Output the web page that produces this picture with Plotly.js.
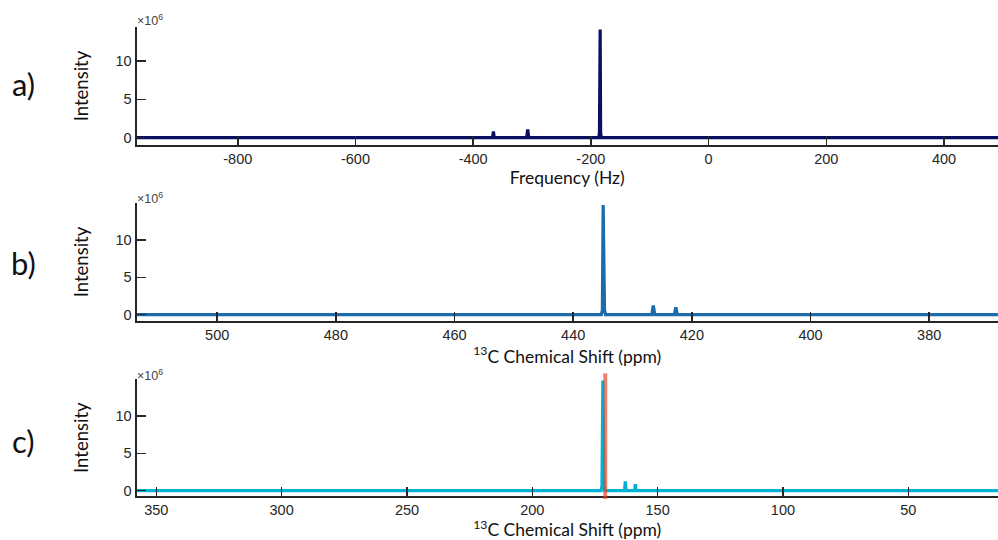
<!DOCTYPE html>
<html>
<head>
<meta charset="utf-8">
<script src="https://cdn.plot.ly/plotly-3.0.1.min.js"></script>
<style>html,body{margin:0;padding:0;background:#fff;}#chart{width:998px;height:540px;}</style>
</head>
<body>
<div id="chart"></div>
<script>
// Panel a: frequency spectrum (Hz), intensity in units of 10^6
const freqA = [-972, -367, -365.6, -364.2, -309, -307.3, -305.6, -186.6, -185.4, -184.6, -184.2, -183.4, -182.2, 492];
const intA  = [0, 0, 0.81, 0, 0, 1.07, 0, 0, 0.6, 14.1, 14.1, 0.6, 0, 0];

// Panel b: 13C chemical shift (ppm) before referencing
const ppmB = [368, 422.45, 422.7, 422.95, 426.25, 426.5, 426.75, 434.55, 434.72, 434.85, 434.95, 435.08, 435.25, 514];
const intB = [0, 0, 0.97, 0, 0, 1.23, 0, 0, 0.6, 14.7, 14.7, 0.6, 0, 0];

// Panel c: 13C chemical shift (ppm) after referencing
const ppmC = [14, 158.6, 158.9, 159.2, 162.6, 162.9, 163.2, 171.05, 171.4, 171.75, 171.85, 172.2, 172.55, 358];
const intC = [0, 0, 0.87, 0, 0, 1.23, 0, 0, 0.6, 14.75, 14.75, 0.6, 0, 0];

// Reference marker line in panel c (ppm)
const refC = [170.9];

// Tick labels
const ticksA = [-800, -600, -400, -200, 0, 200, 400];
const tickTextA = ['-800', '-600', '-400', '-200', '0', '200', '400'];
const ticksB = [500, 480, 460, 440, 420, 400, 380];
const tickTextB = ['500', '480', '460', '440', '420', '400', '380'];
const ticksC = [350, 300, 250, 200, 150, 100, 50];
const tickTextC = ['350', '300', '250', '200', '150', '100', '50'];
const ticksY = [0, 5, 10];
const tickTextY = ['0', '5', '10'];
const panelLabels = ['a)', 'b)', 'c)'];

const AX = '#262626';
const tickFont = {family: 'Liberation Sans, Arial, sans-serif', size: 14.5, color: AX};
const titleFont = {family: 'Lato, sans-serif', size: 17.5, color: '#111'};

function xAxis(range, tv, tt, title, anchor) {
  return {
    domain: [0.1368, 1], anchor: anchor, range: range,
    tickmode: 'array', tickvals: tv, ticktext: tt,
    ticks: 'inside', ticklen: 9, tickwidth: 1.5, tickcolor: AX,
    showline: true, linecolor: AX, linewidth: 2, mirror: false,
    showgrid: false, zeroline: false, tickfont: tickFont,
    title: {text: title, font: titleFont, standoff: 0}
  };
}
function yAxis(domain, range, anchor) {
  return {
    domain: domain, anchor: anchor, range: range,
    tickmode: 'array', tickvals: ticksY, ticktext: tickTextY,
    ticks: 'inside', ticklen: 9, tickwidth: 1.5, tickcolor: AX,
    showline: true, linecolor: AX, linewidth: 2, mirror: false,
    showgrid: false, zeroline: false, tickfont: tickFont,
    title: {text: 'Intensity', font: {family: 'Lato, sans-serif', size: 18.5, color: '#111'}, standoff: 22}
  };
}

const traces = [
  {x: freqA, y: intA, xaxis: 'x', yaxis: 'y', type: 'scatter', mode: 'lines',
   line: {color: '#0a0f62', width: 3.2}, hoverinfo: 'x+y'},
  {x: ppmB, y: intB, xaxis: 'x2', yaxis: 'y2', type: 'scatter', mode: 'lines',
   line: {color: '#1b6ca8', width: 3.2}, hoverinfo: 'x+y'},
  {x: ppmC, y: intC, xaxis: 'x3', yaxis: 'y3', type: 'scatter', mode: 'lines',
   line: {color: '#00b2d6', width: 3.2}, hoverinfo: 'x+y'}
];

const sup13 = '<sup>13</sup>C Chemical Shift (ppm)';
const expText = '\u00d710<sup>6</sup>';
const expFont = {family: 'Liberation Sans, Arial, sans-serif', size: 12.5, color: '#444'};
const labelFont = {family: 'Lato, sans-serif', size: 31, color: '#111'};

const layout = {
  width: 998, height: 540,
  margin: {l: 0, r: 0, t: 0, b: 0},
  paper_bgcolor: '#fff', plot_bgcolor: '#fff',
  showlegend: false,
  xaxis: xAxis([-972, 491.8], ticksA, tickTextA, 'Frequency (Hz)', 'y'),
  yaxis: yAxis([0.7315, 0.95], [-0.97, 14.44], 'x'),
  xaxis2: xAxis([513.6, 368.4], ticksB, tickTextB, sup13, 'y2'),
  yaxis2: yAxis([0.4056, 0.6241], [-0.86, 14.96], 'x2'),
  xaxis3: xAxis([357.9, 14.2], ticksC, tickTextC, sup13, 'y3'),
  yaxis3: yAxis([0.0815, 0.2976], [-0.72, 14.92], 'x3'),
  shapes: refC.map(v => ({
    type: 'line', xref: 'x3', yref: 'y3 domain', x0: v, x1: v, y0: -0.026, y1: 1.051,
    line: {color: 'rgba(230,70,40,0.68)', width: 4}, layer: 'above'
  })),
  annotations: [
    {text: panelLabels[0], xref: 'paper', yref: 'paper', x: 23 / 998, y: 1 - 84 / 540, xanchor: 'center', yanchor: 'middle', showarrow: false, font: labelFont},
    {text: panelLabels[1], xref: 'paper', yref: 'paper', x: 23 / 998, y: 1 - 263 / 540, xanchor: 'center', yanchor: 'middle', showarrow: false, font: labelFont},
    {text: panelLabels[2], xref: 'paper', yref: 'paper', x: 23 / 998, y: 1 - 441 / 540, xanchor: 'center', yanchor: 'middle', showarrow: false, font: labelFont},
    {text: expText, xref: 'paper', yref: 'paper', x: 135 / 998, y: 1 - 20 / 540, xanchor: 'left', yanchor: 'middle', showarrow: false, font: expFont},
    {text: expText, xref: 'paper', yref: 'paper', x: 135 / 998, y: 1 - 198 / 540, xanchor: 'left', yanchor: 'middle', showarrow: false, font: expFont},
    {text: expText, xref: 'paper', yref: 'paper', x: 135 / 998, y: 1 - 375 / 540, xanchor: 'left', yanchor: 'middle', showarrow: false, font: expFont}
  ]
};

Plotly.newPlot('chart', traces, layout, {displayModeBar: false, staticPlot: true});
</script>
</body>
</html>
